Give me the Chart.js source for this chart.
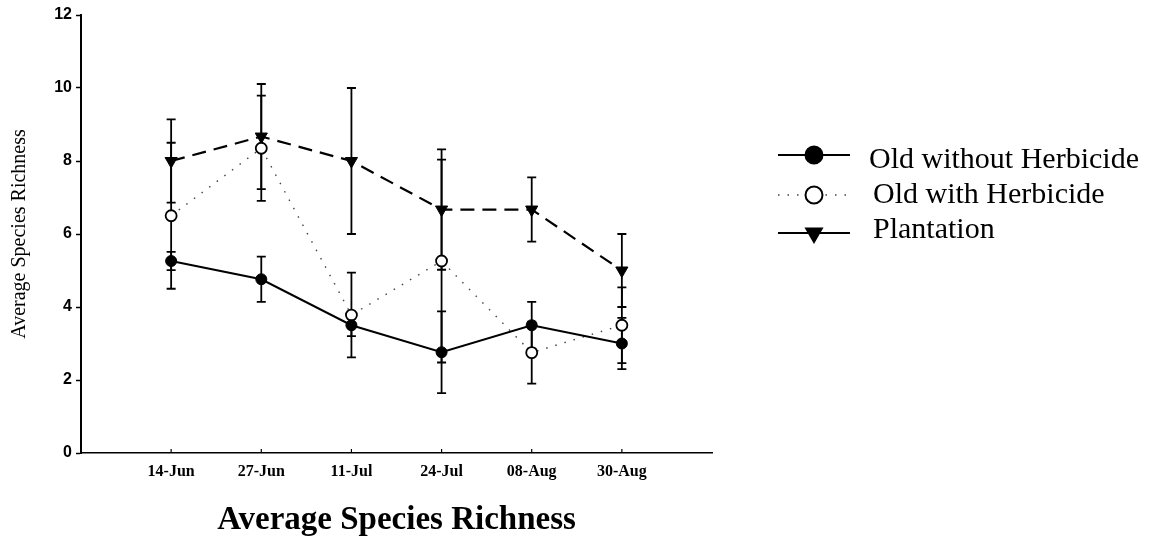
<!DOCTYPE html>
<html>
<head>
<meta charset="utf-8">
<title>Average Species Richness</title>
<script src="https://cdn.jsdelivr.net/npm/chart.js@4.4.1/dist/chart.umd.min.js"></script>
<style>
  html, body { margin: 0; padding: 0; background: #fff; }
  canvas { display: block; }
</style>
</head>
<body>
<canvas id="chart" width="1166" height="542"></canvas>
<script>
// sampling dates (x categories)
const dates = ["14-Jun", "27-Jun", "11-Jul", "24-Jul", "08-Aug", "30-Aug"];

// means
const oldNoHerb = [5.26, 4.76, 3.5, 2.76, 3.5, 3.0];
const oldHerb = [6.5, 8.35, 3.78, 5.26, 2.75, 3.5];
const plantation = [8.0, 8.67, 8.0, 6.67, 6.67, 5.0];

// error bar half-lengths
const oldNoHerbErr = [0.25, 0.62, 0.3, 1.12, 0.64, 0.7];
const oldHerbErr = [2.0, 1.44, 1.16, 2.78, 0.85, 1.04];
const plantationErr = [1.14, 1.44, 2.0, 1.65, 0.88, 1.0];

const yTicks = [0, 2, 4, 6, 8, 10, 12];

const serif = "'Liberation Serif', 'Times New Roman', serif";
const sans = "'Liberation Sans', Arial, sans-serif";

const toPoints = (values) => values.map((v, i) => ({ x: i + 1, y: v }));

const errorBars = {
  id: "errorBars",
  beforeDatasetsDraw(chart) {
    const { ctx, scales: { x, y } } = chart;
    ctx.save();
    ctx.strokeStyle = "#000";
    ctx.lineWidth = 1.8;
    ctx.setLineDash([]);
    chart.data.datasets.forEach((ds) => {
      ds.data.forEach((pt, i) => {
        const px = x.getPixelForValue(pt.x);
        const top = y.getPixelForValue(pt.y + ds.errors[i]);
        const bottom = y.getPixelForValue(pt.y - ds.errors[i]);
        ctx.beginPath();
        ctx.moveTo(px, top);
        ctx.lineTo(px, bottom);
        ctx.moveTo(px - 4.5, top);
        ctx.lineTo(px + 4.5, top);
        ctx.moveTo(px - 4.5, bottom);
        ctx.lineTo(px + 4.5, bottom);
        ctx.stroke();
      });
    });
    ctx.restore();
  },
};

// small upward tick marks on the x axis, at each date
const xTickMarks = {
  id: "xTickMarks",
  afterDraw(chart) {
    const { ctx, scales: { x, y } } = chart;
    ctx.save();
    ctx.strokeStyle = "#000";
    ctx.lineWidth = 1.2;
    dates.forEach((d, i) => {
      const px = x.getPixelForValue(i + 1);
      ctx.beginPath();
      ctx.moveTo(px, y.bottom);
      ctx.lineTo(px, y.bottom - 4);
      ctx.stroke();
    });
    ctx.restore();
  },
};

const legendRows = [
  { lineY: 155, textY: 168, textX: 869 },
  { lineY: 195, textY: 203, textX: 873 },
  { lineY: 233, textY: 238, textX: 873 },
];

const sideLegend = {
  id: "sideLegend",
  afterDraw(chart) {
    const ctx = chart.ctx;
    ctx.save();
    chart.data.datasets.forEach((ds, i) => {
      const row = legendRows[i];
      ctx.strokeStyle = ds.borderColor;
      ctx.lineWidth = ds.legendLineWidth;
      ctx.setLineDash(ds.legendDash);
      ctx.beginPath();
      ctx.moveTo(778, row.lineY);
      ctx.lineTo(850, row.lineY);
      ctx.stroke();
      ctx.setLineDash([]);

      ctx.fillStyle = ds.pointBackgroundColor;
      ctx.strokeStyle = "#000";
      ctx.lineWidth = 2;
      ctx.beginPath();
      if (ds.pointStyle === "triangle") {
        const r = 9;
        ctx.moveTo(814 - r * 0.866, row.lineY - r * 0.5);
        ctx.lineTo(814 + r * 0.866, row.lineY - r * 0.5);
        ctx.lineTo(814, row.lineY + r);
        ctx.closePath();
      } else {
        ctx.arc(814, row.lineY, 8.5, 0, Math.PI * 2);
      }
      ctx.fill();
      ctx.stroke();

      ctx.fillStyle = "#000";
      ctx.font = "30px " + serif;
      ctx.textBaseline = "alphabetic";
      ctx.textAlign = "left";
      ctx.fillText(ds.label, row.textX, row.textY);
    });
    ctx.restore();
  },
};

new Chart(document.getElementById("chart"), {
  type: "line",
  data: {
    datasets: [
      {
        label: "Old without Herbicide",
        data: toPoints(oldNoHerb),
        errors: oldNoHerbErr,
        borderColor: "#000",
        borderWidth: 2,
        pointStyle: "circle",
        pointRadius: 5.5,
        pointBackgroundColor: "#000",
        pointBorderColor: "#000",
        pointBorderWidth: 1,
        legendDash: [],
        legendLineWidth: 2,
      },
      {
        label: "Old with Herbicide",
        data: toPoints(oldHerb),
        errors: oldHerbErr,
        borderColor: "#444",
        borderWidth: 1.4,
        borderDash: [1.5, 8],
        pointStyle: "circle",
        pointRadius: 5.5,
        pointBackgroundColor: "#fff",
        pointBorderColor: "#000",
        pointBorderWidth: 1.8,
        legendDash: [1.5, 8],
        legendLineWidth: 1.4,
      },
      {
        label: "Plantation",
        data: toPoints(plantation),
        errors: plantationErr,
        borderColor: "#000",
        borderWidth: 2.2,
        borderDash: [14, 8],
        pointStyle: "triangle",
        pointRotation: 180,
        pointRadius: 7,
        pointBackgroundColor: "#000",
        pointBorderColor: "#000",
        pointBorderWidth: 1,
        legendDash: [30, 12],
        legendLineWidth: 2.2,
      },
    ],
  },
  options: {
    responsive: false,
    animation: false,
    devicePixelRatio: 1,
    layout: { padding: { top: 15, right: 454, left: 0, bottom: 0 } },
    plugins: {
      legend: { display: false },
      tooltip: { enabled: false },
    },
    elements: { line: { tension: 0 } },
    scales: {
      x: {
        type: "linear",
        min: 0,
        max: 7,
        afterFit: (scale) => { scale.height = 89; },
        afterBuildTicks: (scale) => {
          scale.ticks = dates.map((d, i) => ({ value: i + 1 }));
        },
        ticks: {
          autoSkip: false,
          maxRotation: 0,
          padding: 9,
          color: "#000",
          font: { family: serif, size: 16, weight: "bold" },
          callback: (v) => dates[v - 1] || "",
        },
        grid: { drawOnChartArea: false, drawTicks: false },
        border: { color: "#000", width: 1.6 },
        title: {
          display: true,
          text: "Average Species Richness",
          color: "#000",
          font: { family: serif, size: 33, weight: "bold" },
          padding: { top: 0, bottom: 2 },
        },
      },
      y: {
        min: 0,
        max: 12,
        afterFit: (scale) => { scale.width = 81; },
        afterBuildTicks: (scale) => {
          scale.ticks = yTicks.map((v) => ({ value: v }));
        },
        ticks: {
          padding: 4,
          color: "#000",
          font: { family: sans, size: 16, weight: "bold" },
        },
        grid: { drawOnChartArea: false, tickLength: 5, color: "#000", tickWidth: 1.5 },
        border: { color: "#000", width: 2 },
        title: {
          display: true,
          text: "Average Species Richness",
          color: "#000",
          font: { family: serif, size: 20 },
          padding: { top: 8, bottom: 0 },
        },
      },
    },
  },
  plugins: [errorBars, xTickMarks, sideLegend],
});
</script>
</body>
</html>
